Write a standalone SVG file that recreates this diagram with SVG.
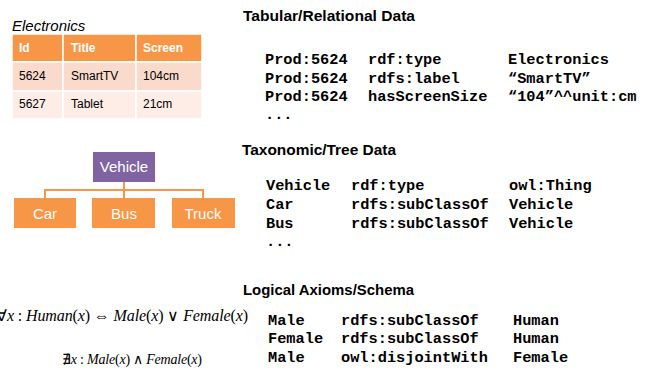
<svg xmlns="http://www.w3.org/2000/svg" width="656" height="373" viewBox="0 0 656 373">
  <style>
    .cap { font-family: "Liberation Sans", Arial, sans-serif; font-style: italic; font-size: 15px; fill: #000; }
    .th { font-family: "Liberation Sans", Arial, sans-serif; font-weight: bold; font-size: 12px; fill: #fff; }
    .td { font-family: "Liberation Sans", Arial, sans-serif; font-size: 12px; fill: #000; }
    .hd { font-family: "Liberation Sans", Arial, sans-serif; font-weight: bold; font-size: 15px; fill: #000; }
    .mono { font-family: "Liberation Mono", "Courier New", monospace; font-weight: bold; font-size: 15.3px; fill: #000; }
    .box { fill: #F79646; }
    .boxp { fill: #8064A2; }
    .lbl { font-family: "Liberation Sans", Arial, sans-serif; font-size: 15px; fill: #fff; text-anchor: middle; }
    .edge { fill: none; stroke: #F79646; stroke-width: 2; }
    .math { font-family: "Liberation Serif", "Times New Roman", serif; font-size: 16px; fill: #000; white-space: pre; }
    .math.small { font-size: 14px; }
    .it { font-style: italic; }
  </style>

  <!-- Relational table -->
  <g id="table">
    <text class="cap" x="12" y="31">Electronics</text>
    <g stroke="#fff" stroke-width="1.5">
      <rect x="12" y="34" width="51" height="28" fill="#F79646"/>
      <rect x="63" y="34" width="73" height="28" fill="#F79646"/>
      <rect x="136" y="34" width="66" height="28" fill="#F79646"/>
      <rect x="12" y="62" width="51" height="29" fill="#FADBCB"/>
      <rect x="63" y="62" width="73" height="29" fill="#FADBCB"/>
      <rect x="136" y="62" width="66" height="29" fill="#FADBCB"/>
      <rect x="12" y="91" width="51" height="28" fill="#FDEDE6"/>
      <rect x="63" y="91" width="73" height="28" fill="#FDEDE6"/>
      <rect x="136" y="91" width="66" height="28" fill="#FDEDE6"/>
    </g>
    <text class="th" x="19" y="52">Id</text>
    <text class="th" x="71" y="52">Title</text>
    <text class="th" x="143" y="52">Screen</text>
    <text class="td" x="19" y="80">5624</text>
    <text class="td" x="71" y="80">SmartTV</text>
    <text class="td" x="143" y="80">104cm</text>
    <text class="td" x="19" y="108">5627</text>
    <text class="td" x="71" y="108">Tablet</text>
    <text class="td" x="143" y="108">21cm</text>
  </g>

  <!-- Tree connectors -->
  <g id="connectors">
    <path class="edge" d="M124 182 V190 M45 198 V190 H203 V198 M124 190 V198"/>
  </g>

  <!-- Tree nodes -->
  <g id="vehicle">
    <rect class="boxp" x="93" y="152" width="62" height="30"/>
    <text class="lbl" x="124" y="172">Vehicle</text>
  </g>
  <g id="car">
    <rect class="box" x="14" y="198" width="62" height="30"/>
    <text class="lbl" x="45" y="219">Car</text>
  </g>
  <g id="bus">
    <rect class="box" x="92" y="198" width="63" height="30"/>
    <text class="lbl" x="124" y="219">Bus</text>
  </g>
  <g id="truck">
    <rect class="box" x="172" y="198" width="63" height="30"/>
    <text class="lbl" x="203" y="219">Truck</text>
  </g>

  <!-- Tabular triples -->
  <g id="tabular">
    <text class="hd" x="243" y="21" textLength="172" lengthAdjust="spacingAndGlyphs">Tabular/Relational Data</text>
    <text class="mono" x="265" y="64">Prod:5624</text>
    <text class="mono" x="368" y="64">rdf:type</text>
    <text class="mono" x="508" y="64">Electronics</text>
    <text class="mono" x="265" y="83">Prod:5624</text>
    <text class="mono" x="368" y="83">rdfs:label</text>
    <text class="mono" x="508" y="83">“SmartTV”</text>
    <text class="mono" x="265" y="101">Prod:5624</text>
    <text class="mono" x="368" y="101">hasScreenSize</text>
    <text class="mono" x="508" y="101">“104”^^unit:cm</text>
    <text class="mono" x="265" y="119">...</text>
  </g>

  <!-- Taxonomy triples -->
  <g id="taxonomic">
    <text class="hd" x="242" y="155" textLength="154" lengthAdjust="spacingAndGlyphs">Taxonomic/Tree Data</text>
    <text class="mono" x="266" y="190">Vehicle</text>
    <text class="mono" x="351" y="190">rdf:type</text>
    <text class="mono" x="509" y="190">owl:Thing</text>
    <text class="mono" x="266" y="209">Car</text>
    <text class="mono" x="351" y="209">rdfs:subClassOf</text>
    <text class="mono" x="509" y="209">Vehicle</text>
    <text class="mono" x="266" y="228">Bus</text>
    <text class="mono" x="351" y="228">rdfs:subClassOf</text>
    <text class="mono" x="509" y="228">Vehicle</text>
    <text class="mono" x="266" y="246">...</text>
  </g>

  <!-- Schema triples -->
  <g id="schema">
    <text class="hd" x="243" y="295" textLength="171" lengthAdjust="spacingAndGlyphs">Logical Axioms/Schema</text>
    <text class="mono" x="268" y="325">Male</text>
    <text class="mono" x="341" y="325">rdfs:subClassOf</text>
    <text class="mono" x="513" y="325">Human</text>
    <text class="mono" x="268" y="343">Female</text>
    <text class="mono" x="341" y="343">rdfs:subClassOf</text>
    <text class="mono" x="513" y="343">Human</text>
    <text class="mono" x="268" y="362">Male</text>
    <text class="mono" x="341" y="362">owl:disjointWith</text>
    <text class="mono" x="513" y="362">Female</text>
  </g>

  <!-- Logic formulas -->
  <g id="formulas">
    <text class="math" x="-4" y="321" textLength="252" lengthAdjust="spacing">∀<tspan class="it">x</tspan> : <tspan class="it">Human</tspan>(<tspan class="it">x</tspan>) ⇔ <tspan class="it">Male</tspan>(<tspan class="it">x</tspan>) ∨ <tspan class="it">Female</tspan>(<tspan class="it">x</tspan>)</text>
    <text class="math small" x="62" y="364" textLength="140" lengthAdjust="spacing">∄<tspan class="it">x</tspan> : <tspan class="it">Male</tspan>(<tspan class="it">x</tspan>) ∧ <tspan class="it">Female</tspan>(<tspan class="it">x</tspan>)</text>
  </g>
</svg>
